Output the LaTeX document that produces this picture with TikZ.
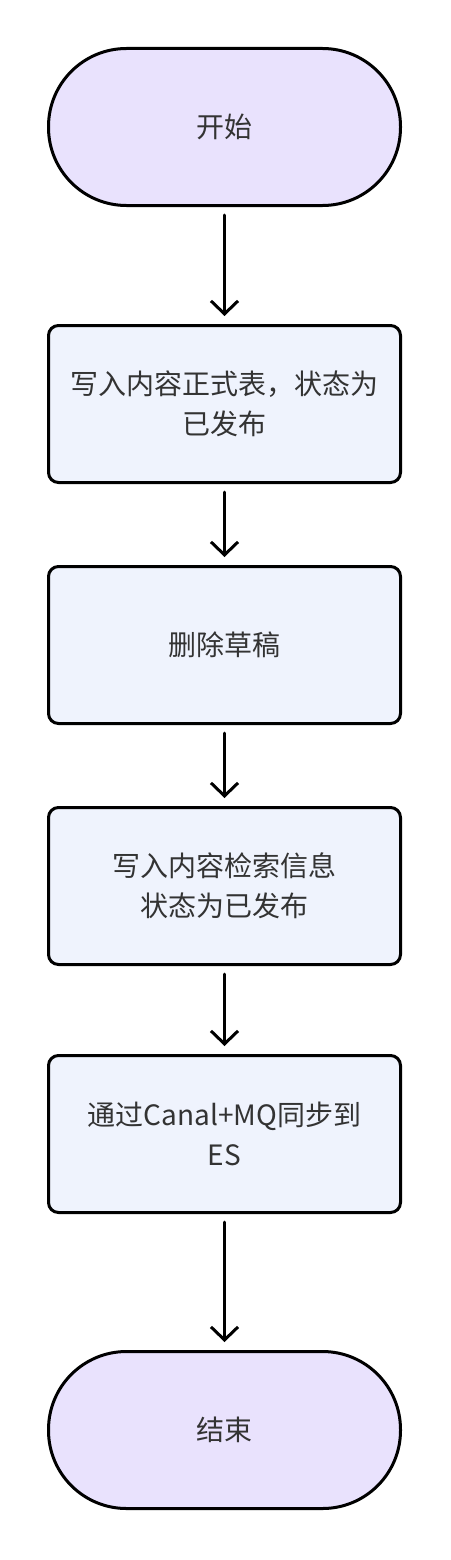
\documentclass[tikz,border=0pt]{standalone}
\usepackage{fontspec}
\setmainfont{Noto Sans CJK SC}
\usetikzlibrary{arrows.meta}
\definecolor{termfill}{HTML}{E9E2FD}
\definecolor{boxfill}{HTML}{EFF3FD}
\definecolor{txt}{HTML}{333333}
\tikzset{
  term/.style={draw=black, line width=3pt, fill=termfill, rounded corners=78pt,
    minimum width=352pt, minimum height=157pt, inner sep=0pt, text=txt,
    font=\fontsize{28}{40}\selectfont, align=center},
  stepbox/.style={draw=black, line width=3pt, fill=boxfill, rounded corners=10pt,
    minimum width=352pt, minimum height=157pt, inner sep=0pt, text=txt,
    font=\fontsize{28}{40}\selectfont, align=center},
  conn/.style={line width=3pt, line cap=round, line join=round,
    -{Straight Barb[length=13pt, width=27pt, line width=3pt]},
    shorten <=8pt, shorten >=8pt}
}
\begin{document}
\begin{tikzpicture}[x=1pt, y=-1pt]
\useasboundingbox (0,0) rectangle (450,1560);
\node[term] (start) at (224.5,127) {开始};
\node[stepbox] (b1) at (224.5,404) {写入内容正式表，状态为\\已发布};
\node[stepbox] (b2) at (224.5,645) {删除草稿};
\node[stepbox] (b3) at (224.5,886) {写入内容检索信息\\状态为已发布};
\node[stepbox] (b4) at (224.5,1134) {通过Canal+MQ同步到\\ES};
\node[term] (end) at (224.5,1430) {结束};
\draw[conn] (start) -- (b1);
\draw[conn] (b1) -- (b2);
\draw[conn] (b2) -- (b3);
\draw[conn] (b3) -- (b4);
\draw[conn] (b4) -- (end);
\end{tikzpicture}
\end{document}
